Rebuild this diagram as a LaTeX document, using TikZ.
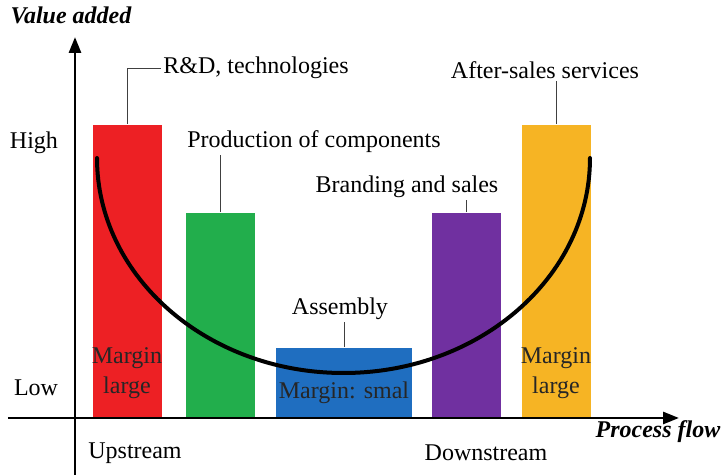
\documentclass[tikz,border=0pt]{standalone}
\usepackage{fontspec}
\setmainfont{Liberation Serif}
\usetikzlibrary{arrows.meta}

\definecolor{barred}{RGB}{237,32,36}
\definecolor{bargreen}{RGB}{34,174,76}
\definecolor{barblue}{RGB}{31,110,192}
\definecolor{barpurple}{RGB}{112,48,160}
\definecolor{barorange}{RGB}{246,180,36}

\begin{document}
\begin{tikzpicture}[
  x=0.5pt, y=-0.5pt,
  bar/.style={anchor=south, minimum width=34.5pt, inner sep=0pt},
  lbl/.style={font=\fontsize{12}{15}\selectfont, inner sep=1pt},
  title/.style={font=\fontsize{12}{15}\selectfont\bfseries\itshape, inner sep=1pt},
  axis/.style={line width=1.4pt, -{Triangle[length=8pt,width=6pt]}},
  lead/.style={black!75, line width=0.4pt},
]
\useasboundingbox (0,0) rectangle (725,475);

% bars
\node (rd)    [bar, fill=barred,    minimum height=146pt] at (127.5,417) {};
\node (pc)    [bar, fill=bargreen,  minimum height=102pt] at (220.5,417) {};
\node (asm)   [bar, fill=barblue,   minimum height=34.5pt, minimum width=68pt] at (344,417) {};
\node (brand) [bar, fill=barpurple, minimum height=102pt] at (466.5,417) {};
\node (after) [bar, fill=barorange, minimum height=146pt] at (556,417) {};

% axes
\coordinate (xs) at (8,418);
\coordinate (xe) at (679,418);
\coordinate (ys) at (75,475);
\coordinate (ye) at (75,37);
\draw[axis] (xs) -- (xe);
\draw[axis] (ys) -- (ye);

% curve
\coordinate (cs) at (97,158);
\draw[line width=2pt, line cap=round]
  (cs) arc[start angle=180, end angle=0, x radius=246.5, y radius=215];

% labels
\node (rdl)    [lbl, anchor=west] at (161,68) {R\&D, technologies};
\node (pcl)    [lbl] at (314,142) {Production of components};
\node (asml)   [lbl] at (340,309) {Assembly};
\node (brandl) [lbl] at (407,187) {Branding and sales};
\node (afterl) [lbl] at (545,70) {After-sales services};

\draw[lead] (rd.north) |- (rdl.west);
\draw[lead] (pc.north) -- (pc.north |- pcl.south);
\draw[lead] (asm.north) -- (asm.north |- asml.south);
\draw[lead] (brand.north) -- (brand.north |- brandl.south);
\draw[lead] (after.north) -- (after.north |- afterl.south);

\node (rdm)    [lbl, align=center, text=black!85] at (127,373) {Margin\\large};
\node (asmm)   [lbl, text=black!85] at (344,393) {Margin: smal};
\node (afterm) [lbl, align=center, text=black!85] at (556,373) {Margin\\large};

\node (high) [lbl] at (34,143) {High};
\node (low)  [lbl] at (36,388) {Low};
\node (up)   [lbl] at (135,453) {Upstream};
\node (down) [lbl] at (486,453) {Downstream};
\node (vadd) [title] at (71,15) {Value added};
\node (flow) [title] at (658,432) {Process flow};
\end{tikzpicture}
\end{document}
